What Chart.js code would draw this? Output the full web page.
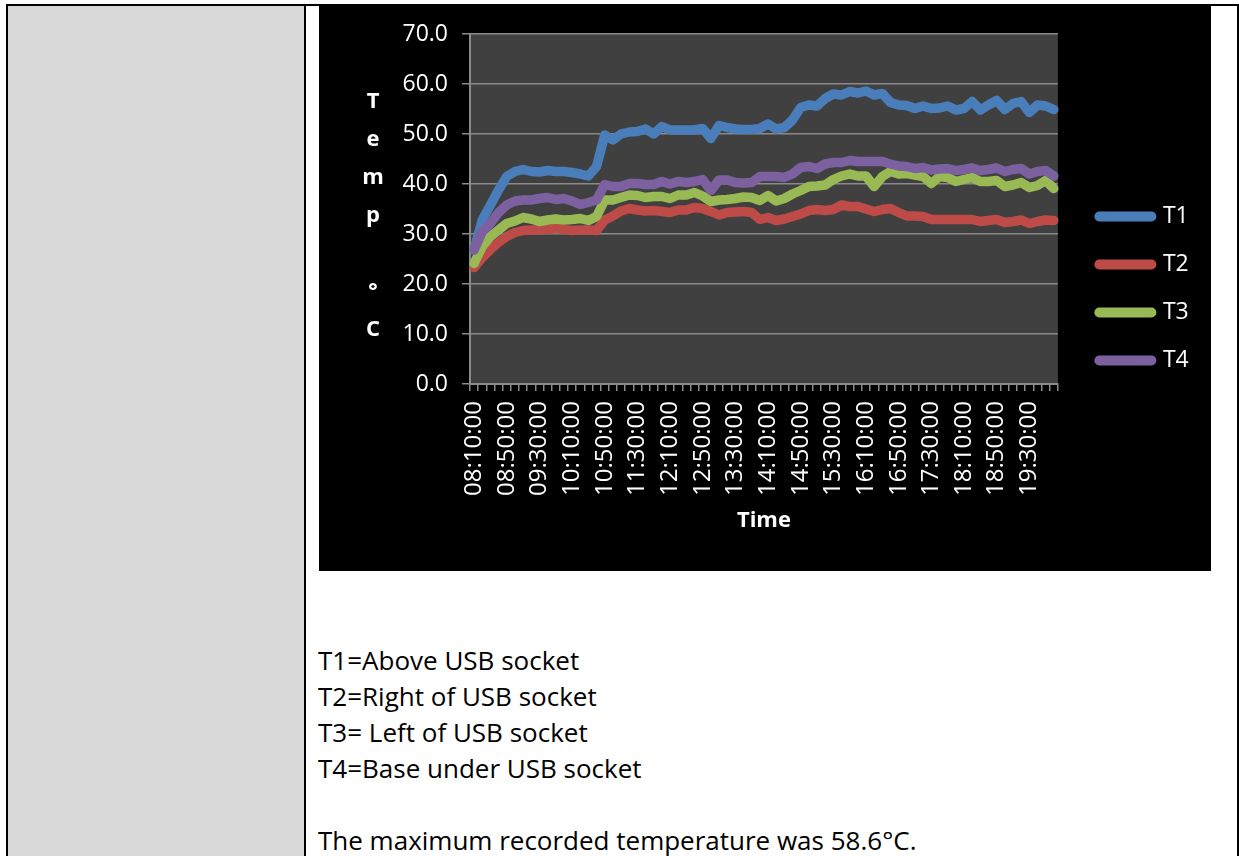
<!DOCTYPE html>
<html>
<head>
<meta charset="utf-8">
<script src="https://cdn.jsdelivr.net/npm/chart.js@4.4.0/dist/chart.umd.min.js"></script>
<style>
  html, body { margin: 0; padding: 0; background: #fff; width: 1239px; height: 856px; overflow: hidden; }
  .line { position: absolute; background: #000; }
  #grey { position: absolute; left: 8px; top: 6px; width: 296px; height: 850px; background: #d9d9d9; }
  #chartBox { position: absolute; left: 319px; top: 6px; width: 892px; height: 565px; background: #000; }
  #notes { position: absolute; left: 318px; top: 642px; font-family: 'Open Sans', sans-serif; font-size: 26px; line-height: 36px; color: #000; white-space: nowrap; }
</style>
</head>
<body>
<div class="line" style="left:6px;top:4px;width:2px;height:852px"></div>
<div class="line" style="left:6px;top:4px;width:1233px;height:2px"></div>
<div class="line" style="left:1237px;top:4px;width:2px;height:852px"></div>
<div id="grey"></div>
<div class="line" style="left:304px;top:6px;width:2px;height:850px"></div>
<div id="chartBox"><canvas id="myChart" width="892" height="565"></canvas></div>
<div id="notes">
  <div>T1=Above USB socket</div>
  <div>T2=Right of USB socket</div>
  <div>T3= Left of USB socket</div>
  <div>T4=Base under USB socket</div>
  <div>&nbsp;</div>
  <div>The maximum recorded temperature was 58.6°C.</div>
</div>
<script>
'use strict';

// sample times, every 10 minutes
const times = [
  '08:10:00','08:20:00','08:30:00','08:40:00','08:50:00','09:00:00','09:10:00','09:20:00',
  '09:30:00','09:40:00','09:50:00','10:00:00','10:10:00','10:20:00','10:30:00','10:40:00',
  '10:50:00','11:00:00','11:10:00','11:20:00','11:30:00','11:40:00','11:50:00','12:00:00',
  '12:10:00','12:20:00','12:30:00','12:40:00','12:50:00','13:00:00','13:10:00','13:20:00',
  '13:30:00','13:40:00','13:50:00','14:00:00','14:10:00','14:20:00','14:30:00','14:40:00',
  '14:50:00','15:00:00','15:10:00','15:20:00','15:30:00','15:40:00','15:50:00','16:00:00',
  '16:10:00','16:20:00','16:30:00','16:40:00','16:50:00','17:00:00','17:10:00','17:20:00',
  '17:30:00','17:40:00','17:50:00','18:00:00','18:10:00','18:20:00','18:30:00','18:40:00',
  '18:50:00','19:00:00','19:10:00','19:20:00','19:30:00','19:40:00','19:50:00','20:00:00'
];

// T1 = above USB socket
const t1 = [26.8, 32.8, 35.8, 38.8, 41.5, 42.5, 42.9, 42.5, 42.4, 42.7,
            42.5, 42.5, 42.3, 42.0, 41.6, 43.5, 49.8, 48.8, 50.0, 50.4,
            50.5, 51.0, 50.0, 51.5, 50.8, 50.8, 50.8, 50.8, 51.1, 49.1,
            51.7, 51.3, 51.0, 50.9, 50.9, 51.1, 52.0, 51.0, 51.3, 52.8,
            55.3, 55.8, 55.6, 57.1, 58.0, 57.8, 58.5, 58.2, 58.6, 57.8,
            58.1, 56.3, 55.8, 55.7, 55.1, 55.6, 55.1, 55.2, 55.6, 54.8,
            55.1, 56.5, 54.8, 55.8, 56.7, 54.9, 56.1, 56.5, 54.3, 55.8,
            55.6, 54.9];
// T2 = right of USB socket
const t2 = [23.3, 25.3, 26.9, 28.3, 29.5, 30.3, 30.7, 30.8, 30.8, 30.9,
            31.1, 30.9, 30.7, 30.8, 30.8, 30.7, 32.8, 33.6, 34.6, 35.1,
            34.8, 34.6, 34.7, 34.5, 34.3, 34.8, 34.8, 35.3, 35.1, 34.5,
            33.8, 34.3, 34.4, 34.5, 34.3, 32.9, 33.3, 32.7, 33.0, 33.5,
            34.0, 34.7, 34.9, 34.7, 34.9, 35.8, 35.5, 35.5, 35.0, 34.5,
            34.9, 35.1, 34.3, 33.6, 33.6, 33.5, 32.9, 32.9, 32.9, 32.9,
            32.9, 32.9, 32.5, 32.7, 32.9, 32.3, 32.5, 32.8, 32.1, 32.5,
            32.8, 32.7];
// T3 = left of USB socket
const t3 = [24.1, 27.5, 29.5, 30.8, 32.1, 32.6, 33.3, 33.0, 32.5, 32.8,
            33.0, 32.8, 32.9, 33.1, 32.7, 33.5, 36.8, 36.8, 37.3, 37.8,
            37.7, 37.3, 37.5, 37.5, 37.1, 37.8, 37.8, 38.3, 37.6, 36.5,
            36.8, 36.9, 37.1, 37.4, 37.3, 36.7, 37.7, 36.6, 37.1, 38.0,
            38.7, 39.5, 39.6, 39.8, 40.9, 41.6, 42.0, 41.6, 41.6, 39.5,
            41.5, 42.5, 42.0, 42.1, 41.8, 41.5, 40.1, 41.5, 41.3, 40.5,
            40.9, 41.3, 40.5, 40.5, 40.7, 39.5, 39.8, 40.3, 39.3, 39.7,
            40.7, 39.1];
// T4 = base under USB socket
const t4 = [26.8, 30.5, 32.1, 34.3, 35.8, 36.6, 36.8, 36.8, 37.1, 37.3,
            36.9, 37.1, 36.6, 35.9, 36.3, 36.8, 39.9, 39.5, 39.5, 40.1,
            40.1, 39.9, 39.9, 40.5, 40.0, 40.5, 40.3, 40.5, 40.9, 38.7,
            40.8, 40.8, 40.3, 40.2, 40.3, 41.5, 41.5, 41.5, 41.3, 42.0,
            43.3, 43.5, 43.1, 44.0, 44.3, 44.3, 44.7, 44.5, 44.5, 44.5,
            44.5, 44.0, 43.6, 43.5, 43.1, 43.3, 42.8, 43.0, 43.1, 42.7,
            42.9, 43.2, 42.7, 42.9, 43.2, 42.5, 42.9, 43.1, 42.0, 42.5,
            42.7, 41.6];

const seriesNames = ['T1', 'T2', 'T3', 'T4'];
const seriesColors = ['#4a7ebb', '#be4b48', '#98b954', '#7d60a0'];
const yTitleChars = ['T', 'e', 'm', 'p', '', '°', 'C'];

const gridGrey = '#8a8a8a';
const tickFont = { family: "'Open Sans'", size: 23 };

// dark plot area + stacked vertical axis title
const plotBackground = {
   id: 'plotBackground',
   beforeDraw(chart) {
      const a = chart.chartArea;
      const ctx = chart.ctx;
      ctx.save();
      ctx.fillStyle = '#404040';
      ctx.fillRect(a.left, a.top, a.right - a.left, a.bottom - a.top);
      ctx.restore();
   },
   afterDraw(chart) {
      const ctx = chart.ctx;
      ctx.save();
      ctx.fillStyle = '#fff';
      ctx.font = "bold 22px 'Open Sans'";
      ctx.textAlign = 'center';
      ctx.textBaseline = 'alphabetic';
      yTitleChars.forEach(function (ch, i) {
         ctx.fillText(ch, 54, 102 + i * 38);
      });
      ctx.restore();
   }
};

const allSeries = [t1, t2, t3, t4];
const datasets = allSeries.map(function (vals, i) {
   return {
      label: seriesNames[i],
      data: vals,
      borderColor: seriesColors[i],
      backgroundColor: seriesColors[i],
      borderWidth: 9.5,
      borderCapStyle: 'round',
      borderJoinStyle: 'round',
      pointRadius: 0,
      tension: 0,
      order: 4 - i,
      xAxisID: 'x',
      yAxisID: 'y'
   };
});

const ctx = document.getElementById('myChart');
const myChart = new Chart(ctx, {
   type: 'line',
   data: { labels: times, datasets: datasets },
   plugins: [plotBackground],
   options: {
      responsive: false,
      animation: false,
      layout: { padding: { left: 0, top: 0, right: 12.3, bottom: 0 } },
      plugins: {
         tooltip: { enabled: false },
         legend: {
            position: 'right',
            labels: {
               color: '#fff',
               font: tickFont,
               usePointStyle: true,
               pointStyle: 'line',
               pointStyleWidth: 52,
               padding: 25,
               generateLabels: function (chart) {
                  const items = Chart.defaults.plugins.legend.labels.generateLabels(chart);
                  items.forEach(function (it) {
                     it.lineCap = 'round';
                     it.lineWidth = 10;
                  });
                  return items;
               },
               sort: function (a, b) { return a.datasetIndex - b.datasetIndex; }
            }
         }
      },
      scales: {
         x: {
            type: 'category',
            position: 'bottom',
            offset: true,
            grid: { offset: true, drawOnChartArea: false, drawTicks: true, tickLength: 7, color: gridGrey, lineWidth: 1.5 },
            border: { color: gridGrey, width: 2 },
            ticks: {
               color: '#fff',
               font: { family: "'Open Sans'", size: 24 },
               autoSkip: false,
               maxRotation: 90,
               minRotation: 90,
               padding: 10,
               callback: function (val, index) {
                  return index % 4 === 0 ? this.getLabelForValue(val) : '';
               }
            },
            title: {
               display: true,
               text: 'Time',
               color: '#fff',
               font: { family: "'Open Sans'", size: 22, weight: 'bold' },
               padding: { top: 0, bottom: 37 }
            },
            afterFit: function (scale) { scale.height = 187; }
         },
         x2: {
            type: 'category',
            position: 'top',
            display: true,
            grid: { display: false },
            border: { display: false },
            ticks: { display: false },
            afterFit: function (scale) { scale.height = 28; }
         },
         y: {
            type: 'linear',
            position: 'left',
            min: 0,
            max: 70,
            grid: { color: gridGrey, lineWidth: 1.5, tickLength: 8 },
            border: { color: gridGrey, width: 2 },
            ticks: {
               stepSize: 10,
               color: '#fff',
               font: tickFont,
               padding: 14,
               callback: function (v) { return v.toFixed(1); }
            },
            afterFit: function (scale) { scale.width = 151; }
         },
         y2: {
            type: 'linear',
            position: 'right',
            display: true,
            grid: { display: false },
            border: { display: false },
            ticks: { display: false },
            afterFit: function (scale) { scale.width = 16.5; }
         }
      }
   }
});
</script>
</body>
</html>
